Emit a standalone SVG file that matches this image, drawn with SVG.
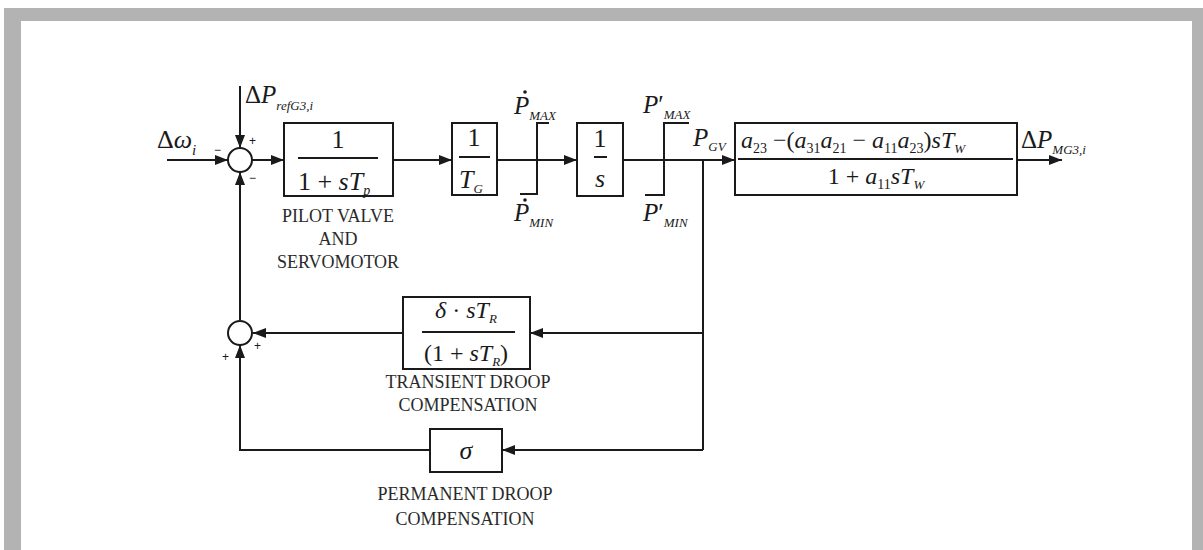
<svg xmlns="http://www.w3.org/2000/svg" width="1203" height="550" viewBox="0 0 1203 550">
<style>
.ln{fill:none;stroke:#1a1a1a;stroke-width:2}
.bx{fill:#fff;stroke:#1a1a1a;stroke-width:2}
.m{font-family:"Liberation Serif",serif;font-style:italic;fill:#1a1a1a}
.r{font-family:"Liberation Serif",serif;font-style:normal;fill:#1a1a1a}
.lab{font-family:"Liberation Serif",serif;font-size:18px;fill:#2a2a2a;text-anchor:middle}
.sg{font-family:"Liberation Sans",sans-serif;font-size:12px;fill:#1a1a1a}
</style>
<defs>
<marker id="ah" markerUnits="userSpaceOnUse" markerWidth="13" markerHeight="10" refX="13" refY="5" orient="auto">
<path d="M0,0 L13,5 L0,10 z" fill="#1a1a1a"/>
</marker>
</defs>
<rect x="4" y="8" width="1199" height="542" fill="#b3b3b3"/>
<rect x="21" y="21" width="1171" height="529" fill="#fff"/>

<g id="connectors">
<path class="ln" d="M167,160 L228,160" marker-end="url(#ah)"/>
<path class="ln" d="M240,86 L240,148" marker-end="url(#ah)"/>
<path class="ln" d="M252,160 L284,160" marker-end="url(#ah)"/>
<path class="ln" d="M393,160 L452,160" marker-end="url(#ah)"/>
<path class="ln" d="M497,160 L577,160" marker-end="url(#ah)"/>
<path class="ln" d="M623,160 L735,160" marker-end="url(#ah)"/>
<path class="ln" d="M1017,160 L1062,160" marker-end="url(#ah)"/>
<path class="ln" d="M703,160 L703,450"/>
<path class="ln" d="M703,333 L530,333" marker-end="url(#ah)"/>
<path class="ln" d="M403,333 L253,333" marker-end="url(#ah)"/>
<path class="ln" d="M703,450 L502,450" marker-end="url(#ah)"/>
<path class="ln" d="M430,450 L240,450 L240,345" marker-end="url(#ah)"/>
<path class="ln" d="M240,320 L240,172" marker-end="url(#ah)"/>
</g>

<g id="input-labels">
<text class="r" x="157" y="148" font-size="26">Δ<tspan class="m">ω</tspan><tspan class="m" font-size="15" dy="7">i</tspan></text>
<text class="r" x="245" y="103" font-size="25">Δ<tspan class="m">P</tspan><tspan class="m" font-size="13" dy="7">refG3,i</tspan></text>
</g>

<g id="sum1">
<circle class="bx" cx="240" cy="160" r="12"/>
<text class="sg" x="249" y="145">+</text>
<text class="sg" x="214" y="154">−</text>
<text class="sg" x="249" y="182">−</text>
</g>

<g id="pilot-valve">
<rect class="bx" x="284" y="123" width="109" height="73"/>
<text class="r" x="338" y="148" font-size="26" text-anchor="middle">1</text>
<line class="ln" x1="298" y1="158" x2="378" y2="158"/>
<text class="r" x="334" y="190" font-size="26" text-anchor="middle">1 + <tspan class="m">sT</tspan><tspan class="m" font-size="14" dy="5">p</tspan></text>
<text class="lab" x="338" y="222">PILOT VALVE</text>
<text class="lab" x="338" y="245">AND</text>
<text class="lab" x="338" y="268">SERVOMOTOR</text>
</g>

<g id="gate-gain">
<rect class="bx" x="452" y="123" width="45" height="72"/>
<text class="r" x="474" y="146" font-size="26" text-anchor="middle">1</text>
<line class="ln" x1="459" y1="157" x2="490" y2="157"/>
<text class="m" x="471" y="188" font-size="26" text-anchor="middle">T<tspan font-size="13" dy="5">G</tspan></text>
</g>

<g id="rate-limiter">
<path class="ln" d="M549,123 L537,123 L537,194 L520,194"/>
<text class="m" x="514" y="114" font-size="25">P<tspan font-size="13" dy="6">MAX</tspan></text>
<circle cx="525" cy="92" r="1.8" fill="#1a1a1a"/>
<text class="m" x="514" y="221" font-size="25">P<tspan font-size="13" dy="6">MIN</tspan></text>
<circle cx="525" cy="200" r="1.8" fill="#1a1a1a"/>
</g>

<g id="integrator">
<rect class="bx" x="577" y="123" width="46" height="73"/>
<text class="r" x="600" y="147" font-size="26" text-anchor="middle">1</text>
<line class="ln" x1="594" y1="157" x2="607" y2="157"/>
<text class="m" x="600" y="187" font-size="26" text-anchor="middle">s</text>
</g>

<g id="position-limiter">
<path class="ln" d="M689,123 L664,123 L664,195 L645,195"/>
<text class="m" x="643" y="113" font-size="25">P<tspan class="r">′</tspan><tspan font-size="13" dy="6">MAX</tspan></text>
<text class="m" x="643" y="221" font-size="25">P<tspan class="r">′</tspan><tspan font-size="13" dy="6">MIN</tspan></text>
<text class="m" x="693" y="146" font-size="25">P<tspan font-size="13" dy="5">GV</tspan></text>
</g>

<g id="turbine">
<rect class="bx" x="735" y="123" width="282" height="72"/>
<text class="m" x="741" y="148" font-size="24">a<tspan class="r" font-size="14" dy="5">23</tspan><tspan class="r" dy="-5"> −(</tspan>a<tspan class="r" font-size="14" dy="5">31</tspan><tspan dy="-5">a</tspan><tspan class="r" font-size="14" dy="5">21</tspan><tspan class="r" dy="-5"> − </tspan>a<tspan class="r" font-size="14" dy="5">11</tspan><tspan dy="-5">a</tspan><tspan class="r" font-size="14" dy="5">23</tspan><tspan class="r" dy="-5">)</tspan>sT<tspan font-size="13" dy="5">W</tspan></text>
<line class="ln" x1="738" y1="159" x2="1013" y2="159"/>
<text class="r" x="876" y="184" font-size="24" text-anchor="middle">1 + <tspan class="m">a</tspan><tspan font-size="14" dy="5">11</tspan><tspan class="m" dy="-5">sT</tspan><tspan class="m" font-size="13" dy="5">W</tspan></text>
<text class="r" x="1021" y="148" font-size="25">Δ<tspan class="m">P</tspan><tspan class="m" font-size="13" dy="6">MG3,i</tspan></text>
</g>

<g id="sum2">
<circle class="bx" cx="240" cy="333" r="12"/>
<text class="sg" x="254" y="350">+</text>
<text class="sg" x="222" y="361">+</text>
</g>

<g id="transient-droop">
<rect class="bx" x="403" y="297" width="127" height="72"/>
<text class="m" x="466" y="318" font-size="24" text-anchor="middle">δ<tspan class="r"> · </tspan>sT<tspan font-size="13" dy="5">R</tspan></text>
<line class="ln" x1="422" y1="332" x2="515" y2="332"/>
<text class="r" x="466" y="361" font-size="24" text-anchor="middle">(1 + <tspan class="m">sT</tspan><tspan class="m" font-size="13" dy="5">R</tspan><tspan dy="-5">)</tspan></text>
<text class="lab" x="468" y="388">TRANSIENT DROOP</text>
<text class="lab" x="468" y="411">COMPENSATION</text>
</g>

<g id="permanent-droop">
<rect class="bx" x="430" y="429" width="72" height="43"/>
<text class="m" x="466" y="459" font-size="26" text-anchor="middle">σ</text>
<text class="lab" x="465" y="500">PERMANENT DROOP</text>
<text class="lab" x="465" y="525">COMPENSATION</text>
</g>
</svg>
